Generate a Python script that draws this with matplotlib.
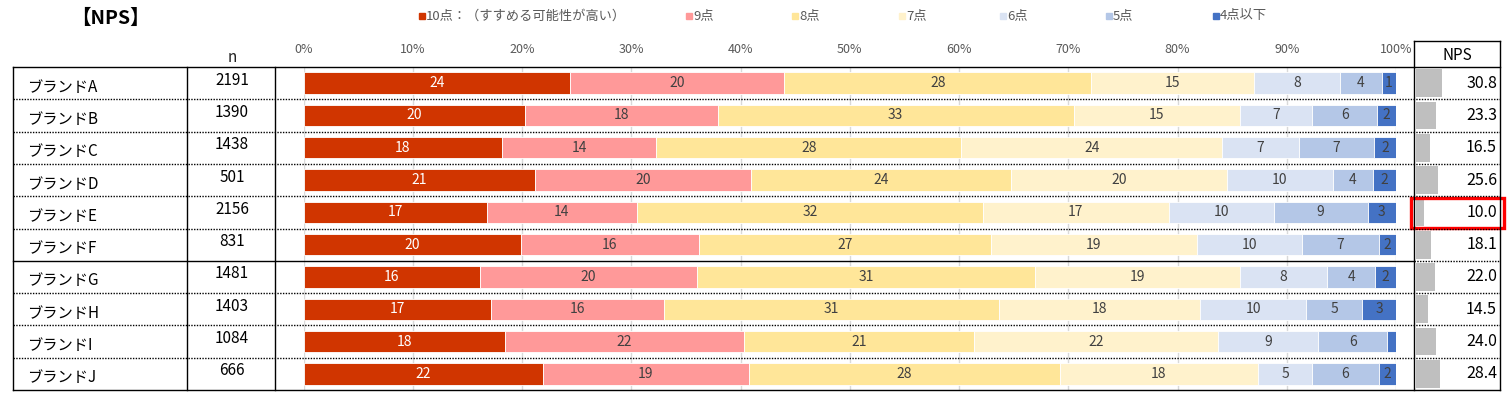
import numpy as np
import matplotlib.pyplot as plt
from matplotlib.patches import Rectangle

plt.rcParams['font.family'] = ['Noto Sans CJK JP', 'DejaVu Sans']

W, H = 1511, 397

brands = ["ブランドA", "ブランドB", "ブランドC", "ブランドD", "ブランドE",
          "ブランドF", "ブランドG", "ブランドH", "ブランドI", "ブランドJ"]
n_resp = [2191, 1390, 1438, 501, 2156, 831, 1481, 1403, 1084, 666]
nps = [30.8, 23.3, 16.5, 25.6, 10.0, 18.1, 22.0, 14.5, 24.0, 28.4]

categories = ["10点：（すすめる可能性が高い）", "9点", "8点", "7点", "6点", "5点", "4点以下"]
score10 = [24.4, 20.3, 18.2, 21.2, 16.8, 19.9, 16.2, 17.2, 18.4, 21.9]
score9 = [19.6, 17.6, 14.1, 19.8, 13.7, 16.3, 19.8, 15.8, 21.9, 18.9]
score8 = [28.1, 32.6, 27.9, 23.8, 31.7, 26.7, 31.0, 30.7, 21.1, 28.4]
score7 = [14.9, 15.2, 23.9, 19.7, 17.0, 18.9, 18.7, 18.4, 22.3, 18.2]
score6 = [7.9, 6.6, 7.0, 9.7, 9.6, 9.6, 8.0, 9.7, 9.2, 4.9]
score5 = [3.8, 6.0, 6.9, 3.7, 8.6, 7.0, 4.4, 5.1, 6.3, 6.1]
score4 = [1.3, 1.7, 2.0, 2.1, 2.6, 1.6, 1.9, 3.1, 0.8, 1.6]
series = [score10, score9, score8, score7, score6, score5, score4]

colors = ["#D03500", "#FF9999", "#FFE699", "#FFF2CC", "#DAE3F3", "#B4C7E7", "#4472C4"]
legend_x = [422, 689, 795, 902, 1003, 1109, 1216]

TOP, BOTTOM = 67, 390
pitch = (BOTTOM - TOP) / len(brands)


def px_axes(fig, x0, y0, x1, y1, **kw):
    return fig.add_axes([x0 / W, 1 - y1 / H, (x1 - x0) / W, (y1 - y0) / H], **kw)


fig = plt.figure(figsize=(W / 100, H / 100), dpi=100)

# stacked bars
ax = px_axes(fig, 303.5, TOP, 1396, BOTTOM)
y = np.arange(len(brands))
left = np.zeros(len(brands))
for k, (vals, col) in enumerate(zip(series, colors)):
    vals = np.array(vals)
    ax.barh(y, vals, left=left, height=0.66, color=col, edgecolor="white", linewidth=0.6, zorder=2)
    for i, v in enumerate(vals):
        if v >= 1.0:
            ax.text(left[i] + v / 2, y[i], f"{v:.0f}", ha="center", va="center", fontsize=10,
                    color="white" if k == 0 else "#404040", zorder=3)
    left += vals
ax.set_xlim(0, 100)
ax.set_ylim(len(brands) - 0.5, -0.5)
ax.set_xticks(range(0, 101, 10))
ax.set_xticklabels([f"{t}%" for t in range(0, 101, 10)], fontsize=9, color="#595959")
ax.xaxis.tick_top()
ax.tick_params(axis="x", length=0, pad=8)
ax.set_yticks([])
ax.grid(axis="x", color="#d9d9d9", linewidth=1)
ax.set_axisbelow(True)
for s in ax.spines.values():
    s.set_visible(False)
ax.patch.set_alpha(0)

# NPS column
axn = px_axes(fig, 1414, TOP, 1500, BOTTOM)
axn.barh(y, nps, height=0.86, color="#BFBFBF", zorder=2)
for i, v in enumerate(nps):
    axn.text(94.5, y[i], f"{v:.1f}", ha="right", va="center", fontsize=11.5, color="black")
axn.set_xlim(-2, 98)
axn.set_ylim(len(brands) - 0.5, -0.5)
axn.axis("off")

# overlay for table lines and labels (pixel coordinates)
ov = fig.add_axes([0, 0, 1, 1], zorder=5)
ov.set_xlim(0, W)
ov.set_ylim(H, 0)
ov.axis("off")
ov.patch.set_alpha(0)

lk = dict(color="black", linewidth=1)
ov.plot([13, 1500], [TOP, TOP], **lk)
ov.plot([13, 1500], [BOTTOM, BOTTOM], **lk)
ov.plot([1414, 1500], [41, 41], **lk)
for xv, y0 in [(13, TOP), (187, TOP), (275, TOP), (1414, 41), (1500, 41)]:
    ov.plot([xv, xv], [y0, BOTTOM], **lk)
for r in range(1, len(brands)):
    yy = TOP + r * pitch
    if r == 6:
        ov.plot([13, 1414], [yy, yy], **lk)
        ov.plot([1414, 1500], [yy, yy], color="black", linewidth=1, linestyle=(0, (1, 1)))
    else:
        ov.plot([13, 1500], [yy, yy], color="black", linewidth=1, linestyle=(0, (1, 1)))

for i, (b, n) in enumerate(zip(brands, n_resp)):
    yc = TOP + (i + 0.5) * pitch
    ov.text(27, yc + 4, b, ha="left", va="center", fontsize=11, color="black")
    ov.text(232, yc - 3, str(n), ha="center", va="center", fontsize=11, color="black")

ov.text(232, 57, "n", ha="center", va="center", fontsize=11, color="#222222")
ov.text(1457, 55, "NPS", ha="center", va="center", fontsize=11, color="black")
ov.text(110, 18, "【NPS】", ha="center", va="center", fontsize=14, fontweight="bold", color="black")

# legend
for cat, col, lx in zip(categories, colors, legend_x):
    ov.add_patch(Rectangle((lx - 3, 13), 6, 6, color=col))
    ov.text(lx + 4, 16, cat, ha="left", va="center", fontsize=9.5, color="#595959")

# highlight NPS of brand E
yE = TOP + 4 * pitch
ov.add_patch(Rectangle((1411, yE + 2), 93, pitch - 3, fill=False, edgecolor="#FF0000", linewidth=2.4))

fig.savefig("out.png", dpi=100)
